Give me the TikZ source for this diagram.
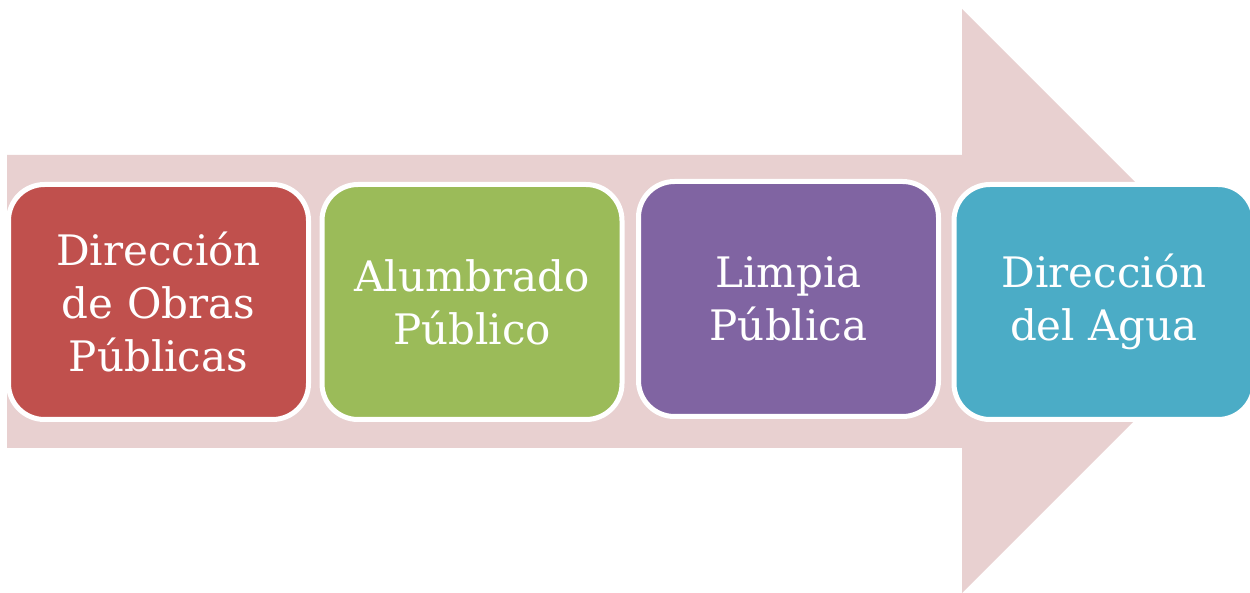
\documentclass[tikz,border=0pt]{standalone}
\usepackage{fontspec}
\setmainfont{DejaVu Serif}
\usepackage{tikz}
\usetikzlibrary{positioning}
\definecolor{arrowpink}{HTML}{E8D0D0}
\definecolor{obrasred}{HTML}{C0504D}
\definecolor{alumgreen}{HTML}{9BBB59}
\definecolor{limpiapurple}{HTML}{8064A2}
\definecolor{aguablue}{HTML}{4BACC6}

\begin{document}
\begin{tikzpicture}[x=0.5pt,y=-0.5pt,
    stage/.style={shape=rectangle, rounded corners=18pt, draw=white, line width=2.5pt,
      text=white, align=center, minimum width=150pt, minimum height=117.5pt,
      inner sep=0pt, font=\fontsize{21}{26.5}\selectfont}]
    \useasboundingbox (0,0) rectangle (1250,593);
    \clip (0,0) rectangle (1250,593);

    % big arrow behind the stages
    \fill[arrowpink] (7,155) -- (962,155) -- (962,9) -- (1254,301)
      -- (962,593) -- (962,448) -- (7,448) -- cycle;

    \node[stage, fill=obrasred] (obras) at (158.5,302) {Dirección\\de Obras\\Públicas};
    \node[stage, fill=alumgreen] (alumbrado) at (472,302) {Alumbrado\\Público};
    \node[stage, fill=limpiapurple] (limpia) at (788.5,299) {Limpia\\Pública};
    \node[stage, fill=aguablue] (agua) at (1104,302) {Dirección\\del Agua};
\end{tikzpicture}
\end{document}
